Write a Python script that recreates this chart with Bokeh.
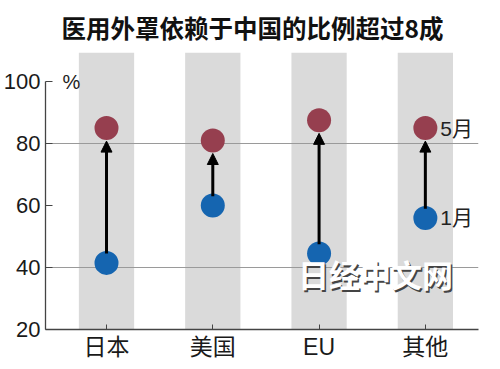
from bokeh.plotting import figure
from bokeh.models import Arrow, NormalHead, Label, FixedTicker, Range1d
from bokeh.core.properties import value
from bokeh.embed import file_html
from bokeh.resources import INLINE

title_text = "医用外罩依赖于中国的比例超过8成"
categories = ["日本", "美国", "EU", "其他"]
jan_values = [41.5, 60, 44.5, 56]
may_values = [85, 81, 87.5, 85]
y_ticks = [20, 40, 60, 80, 100]
grid_values = [40, 80]
series_labels = ["5月", "1月"]
unit_label = "%"
watermark = "日经中文网"

xs = list(range(1, len(categories) + 1))
X_MIN, X_MAX = 0.426, 4.5
Y_MIN, Y_TOP = 20, 109.4

p = figure(width=500, height=369, output_backend="svg", toolbar_location=None,
           x_range=Range1d(X_MIN, X_MAX), y_range=Range1d(Y_MIN, Y_TOP),
           min_border_left=45, min_border_right=22, min_border_top=52,
           min_border_bottom=40)
p.outline_line_color = None
p.xgrid.visible = False
p.ygrid.visible = False
p.background_fill_color = "white"
p.border_fill_color = "white"

# title
p.title.text = title_text
p.title.align = "left"
p.title.offset = 16
p.title.text_font = "Noto Sans CJK SC"
p.title.text_font_size = "24.5px"
p.title.text_font_style = "bold"
p.title.text_color = "#111111"
p.title.standoff = 15

# gray bands
p.vbar(x=xs, width=0.52, top=Y_TOP, bottom=Y_MIN, fill_color="#dadada", line_color=None)
# grid lines over bands
p.hspan(y=grid_values, line_color="#9a9a9a", line_width=1.2)

# arrows
for x, j, m in zip(xs, jan_values, may_values):
    p.add_layout(Arrow(end=NormalHead(size=11, fill_color="black", line_color="black"),
                       x_start=x, y_start=j + 3, x_end=x, y_end=m - 4.2,
                       line_width=3, line_color="black"))

p.scatter(xs, jan_values, size=24, fill_color="#1565b0", line_color=None)
p.scatter(xs, may_values, size=24, fill_color="#963f4f", line_color=None)

# series labels next to last category
p.text(x=[xs[-1], xs[-1]], y=[may_values[-1], jan_values[-1]], text=series_labels,
       x_offset=15, text_baseline="middle", text_align="left",
       text_font=value("Liberation Sans, Noto Sans CJK SC"), text_font_size="21px",
       text_color="#222222")

# unit label
p.add_layout(Label(x=X_MIN, y=100, x_offset=17, text=unit_label, text_baseline="middle",
                   text_font="Liberation Sans", text_font_size="20px",
                   text_color="#222222"))

# watermark (shadow + white)
p.add_layout(Label(x=3.53, y=38.0, x_offset=1.5, y_offset=-1.5, text=watermark,
                   text_align="center", text_baseline="middle",
                   text_font="Noto Sans CJK SC", text_font_size="31px", text_font_style="bold",
                   text_color="#444444"))
p.add_layout(Label(x=3.53, y=38.0, text=watermark,
                   text_align="center", text_baseline="middle",
                   text_font="Noto Sans CJK SC", text_font_size="31px", text_font_style="bold",
                   text_color="white"))

# y axis
yax = p.yaxis[0]
yax.ticker = FixedTicker(ticks=y_ticks)
yax.bounds = (20, 100)
yax.major_tick_in = 7
yax.major_tick_out = 0
yax.minor_tick_line_color = None
yax.axis_line_color = "#444444"
yax.axis_line_width = 1.3
yax.major_tick_line_color = "#444444"
yax.major_label_text_font = "Liberation Sans"
yax.major_label_text_font_size = "22px"
yax.major_label_text_color = "#1a1a1a"
yax.major_label_standoff = 5

# x axis
xax = p.xaxis[0]
xax.ticker = FixedTicker(ticks=xs)
xax.major_label_overrides = {x: c for x, c in zip(xs, categories)}
xax.major_tick_in = 5
xax.major_tick_out = 0
xax.minor_tick_line_color = None
xax.axis_line_color = "#444444"
xax.axis_line_width = 1.3
xax.major_tick_line_color = "#444444"
xax.major_label_text_font = "Liberation Sans, Noto Sans CJK SC"
xax.major_label_text_font_size = "23px"
xax.major_label_text_color = "#1a1a1a"
xax.major_label_standoff = 4

open("out.html", "w").write(file_html(p, INLINE))
